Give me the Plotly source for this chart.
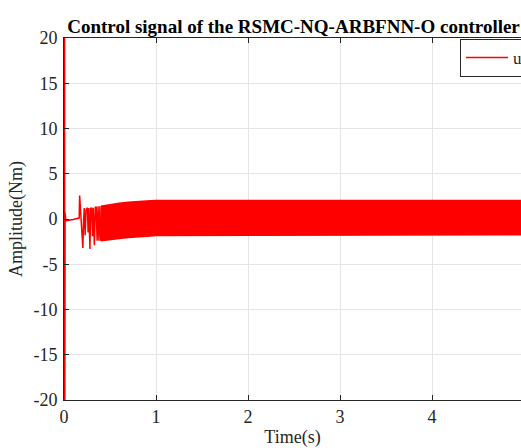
import plotly.graph_objects as go

# Transient part of the control signal (time in s, amplitude in Nm)
t_transient = [0.000, 0.002, 0.004, 0.006, 0.008, 0.012, 0.020, 0.060, 0.100, 0.140,
               0.165, 0.170, 0.185, 0.205, 0.212, 0.220, 0.230, 0.240, 0.255, 0.262,
               0.270, 0.282, 0.290, 0.300, 0.310, 0.318, 0.330, 0.340, 0.350, 0.360,
               0.370, 0.380, 0.390, 0.400]
u_transient = [0.0, 60.0, -60.0, 25.0, -25.0, 0.7, -0.2, -0.15, -0.05, 0.05,
               0.1, 2.6, 0.3, -3.2, -0.4, 1.2, -1.8, 1.0, 1.25, -1.5,
               1.2, -3.3, 1.2, 1.2, -1.9, 1.25, -2.9, 1.3, 1.3, -2.4,
               1.4, -2.4, 1.4, -2.4]

# Envelope of the dense chattering band
t_band = [0.40, 0.45, 0.50, 0.60, 0.70, 0.80, 0.90, 1.00, 1.20, 1.50, 2.00,
          2.50, 3.00, 3.50, 4.00, 4.50, 5.00]
u_band_upper = [1.4, 1.5, 1.6, 1.75, 1.85, 1.95, 2.0, 2.05, 2.05, 2.05, 2.05,
                2.05, 2.05, 2.05, 2.05, 2.05, 2.05]
u_band_lower = [-2.4, -2.4, -2.3, -2.15, -2.05, -1.95, -1.9, -1.82, -1.78, -1.76, -1.75,
                -1.75, -1.75, -1.75, -1.75, -1.75, -1.75]

x_ticks = [0, 1, 2, 3, 4, 5]
y_ticks = [-20, -15, -10, -5, 0, 5, 10, 15, 20]
y_tick_labels = ["-20", "-15", "-10", "-5", "0", "5", "10", "15", "20"]

RED = "#ff0000"
AX = "#262626"
FONT = "Liberation Serif, Times New Roman, serif"

fig = go.Figure()
fig.add_trace(go.Scatter(x=t_transient, y=u_transient, mode="lines", name="u",
                         line=dict(color=RED, width=1.5)))
fig.add_trace(go.Scatter(x=t_band + t_band[::-1], y=u_band_upper + u_band_lower[::-1],
                         mode="lines", fill="toself", fillcolor=RED,
                         line=dict(color=RED, width=1.5), showlegend=False, hoverinfo="skip"))

W, H = 521, 448
L, R, T, B = 64, 0, 38, 48
plot_w = W - L - R
plot_h = H - T - B
px_per_unit = 92.0

fig.update_layout(
    width=W, height=H,
    margin=dict(l=L, r=R, t=T, b=B, autoexpand=False),
    paper_bgcolor="white", plot_bgcolor="white",
    font=dict(family=FONT, size=18, color=AX),
    title=dict(text="<b>Control signal of the RSMC-NQ-ARBFNN-O controller</b>",
               x=293.5 / W, xref="container", xanchor="center",
               y=1 - 26 / H, yref="container", yanchor="middle",
               font=dict(family=FONT, size=19, color="black")),
    showlegend=True,
    legend=dict(x=(460 - L) / plot_w, xanchor="left", y=1 - 1 / plot_h, yanchor="top",
                bordercolor=AX, borderwidth=1, bgcolor="white",
                font=dict(family=FONT, size=17, color=AX),
                itemwidth=42, tracegroupgap=0),
    xaxis=dict(range=[0, plot_w / px_per_unit], tickvals=x_ticks,
               showgrid=True, gridcolor="#e5e5e5", gridwidth=1, zeroline=False,
               showline=True, linecolor=AX, linewidth=1, mirror="ticks",
               ticks="inside", ticklen=5, tickcolor=AX,
               tickfont=dict(family=FONT, size=18, color=AX),
               title=dict(text="Time(s)", font=dict(family=FONT, size=18, color=AX), standoff=11)),
    yaxis=dict(range=[-20, 20], tickvals=y_ticks, ticktext=y_tick_labels,
               showgrid=True, gridcolor="#e5e5e5", gridwidth=1, zeroline=False,
               showline=True, linecolor=AX, linewidth=1, mirror=False,
               ticks="inside", ticklen=5, tickcolor=AX, ticklabelstandoff=2,
               tickfont=dict(family=FONT, size=18, color=AX),
               title=dict(text="Amplitude(Nm)", font=dict(family=FONT, size=18, color=AX), standoff=6)),
)

# remove the default page margin so the figure fills the window exactly
fig.write_html("out.html", config={"displayModeBar": False},
               post_script="document.body.style.margin='0';document.body.style.overflow='hidden';")
